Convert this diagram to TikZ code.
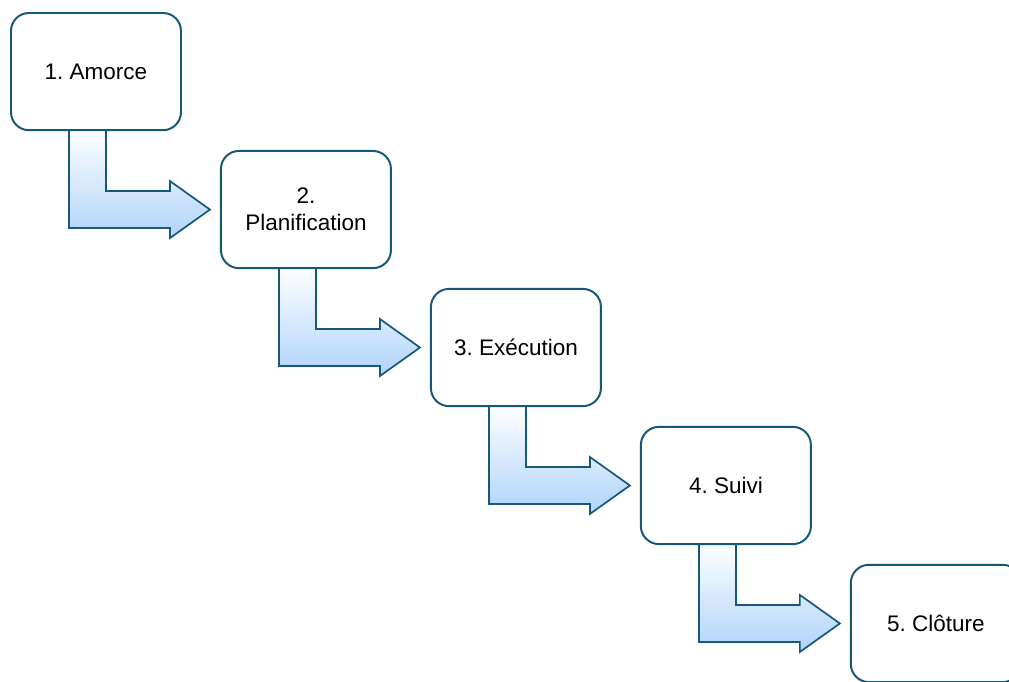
\documentclass[tikz,border=0pt]{standalone}
\usepackage{fontspec}
\setmainfont{Liberation Sans}
\frenchspacing
\usetikzlibrary{positioning, calc, backgrounds}
\definecolor{edgeblue}{RGB}{22,88,122}
\definecolor{lightblue}{RGB}{176,212,250}

\begin{document}
\begin{tikzpicture}[
        node distance=0.47cm and 0.95cm,
        phase/.style={rectangle, draw=edgeblue, fill=white, line width=1.4pt,
                      minimum width=4.25cm, minimum height=2.93cm, align=center,
                      font=\fontsize{16}{19}\selectfont, rounded corners=0.45cm},
        bentarrow/.style={draw=edgeblue, line width=1.2pt, line join=miter,
                          top color=white, bottom color=lightblue},
    ]
    \useasboundingbox (0,0) rectangle (25.225,-17.025);

    % ---- the five phases, stepping down to the right ----
    \node[phase, anchor=north west] (P1) at (0.25,-0.3) {1. Amorce};
    \node[phase, below right=of P1.south east, anchor=north west] (P2) {2.\\Planification};
    \node[phase, below right=of P2.south east, anchor=north west] (P3) {3. Exécution};
    \node[phase, below right=of P3.south east, anchor=north west] (P4) {4. Suivi};
    \node[phase, below right=of P4.south east, anchor=north west] (P5) {5. Clôture};

    % ---- bent block arrows: phase -> next phase ----
    \begin{scope}[on background layer]
    \foreach \i/\j in {1/2, 2/3, 3/4, 4/5} {
        \draw[bentarrow] let \p1=(P\i.south west), \p2=(P\j.west) in
            (\x1+1.475cm,\y1+0.1cm) -- (\x1+2.4cm,\y1+0.1cm)
            -- (\x1+2.4cm,\y2+0.4625cm) -- (\x2-1.25cm,\y2+0.4625cm)
            -- (\x2-1.25cm,\y2+0.7125cm) -- (\x2-0.25cm,\y2)
            -- (\x2-1.25cm,\y2-0.7125cm) -- (\x2-1.25cm,\y2-0.4625cm)
            -- (\x1+1.475cm,\y2-0.4625cm) -- cycle;
    }
    \end{scope}
\end{tikzpicture}
\end{document}
